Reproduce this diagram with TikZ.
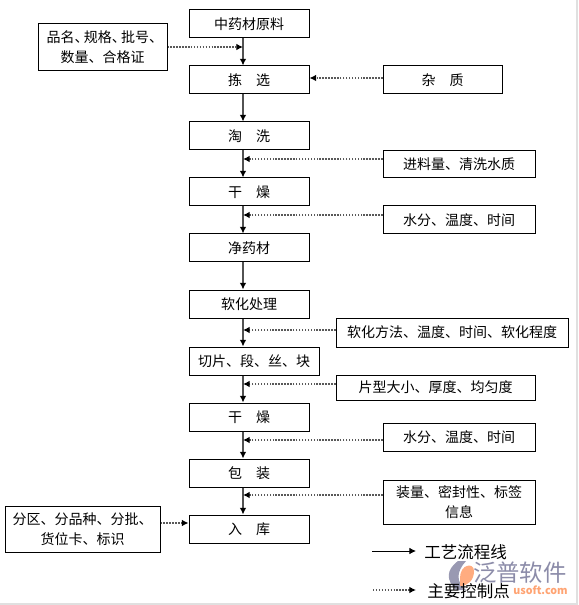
\documentclass[tikz,border=0pt]{standalone}
\usepackage{fontspec}
\setmainfont{Noto Sans CJK SC}
\usetikzlibrary{arrows.meta}
\tikzset{
  x=0.75pt,y=-0.75pt,
  box/.style={draw=black,line width=0.75pt,fill=white,font=\fontsize{10.5pt}{15pt}\selectfont,align=center,inner sep=0pt},
  flow/.style={draw=black!68,line width=1.1pt,-{Latex[length=5pt,width=5pt,black]}},
  ctrl/.style={draw=black!65,line width=0.9pt,dash pattern=on 1.1pt off 1.1pt,-{Latex[length=5pt,width=5pt,black]}},
  lgflow/.style={draw=black,line width=0.7pt,-{Latex[length=5pt,width=5pt,black]}},
  lgctrl/.style={draw=black!65,line width=0.9pt,dash pattern=on 1.1pt off 1.1pt,-{Latex[length=5pt,width=5pt,black]}},
  lgtext/.style={font=\fontsize{12.4pt}{14pt}\selectfont,anchor=west,inner sep=0pt},
}
\newcommand{\bx}[6]{\node[box,minimum width={(#3-#2)*0.75pt},minimum height={(#5-#4)*0.75pt}] (#1) at ({(#2+#3)/2},{(#4+#5)/2}) {#6};}
\begin{document}
\begin{tikzpicture}
\useasboundingbox (0,0) rectangle (578,605);
\fill[white] (0,0) rectangle (578,605);
% page edge
\fill[black!12] (576,0) rectangle (578,605);
\fill[black!12] (0,603) rectangle (578,605);
% watermark
\node[inner sep=0pt,anchor=west,text=blue!25!black!45,font=\fontsize{17.5pt}{18pt}\selectfont] (wm) at (473,573) {泛普软件};
\node[inner sep=0pt,anchor=east,text=orange!70!red!55,font=\fontsize{8pt}{9pt}\selectfont\bfseries] (wmb) at (568,590) {usoft.com};
\fill[blue!25!black!40] (458,561) .. controls (446,570) and (446,580) .. (456,590) -- (466,590) .. controls (456,582) and (456,572) .. (466,561) -- cycle;
\fill[orange!70!red!50] (460,578) .. controls (460,564) and (474,562) .. (474,571) .. controls (474,580) and (468,586) .. (460,586) -- cycle;
% spine of the main flow
\coordinate (spine) at (243,0);
% process boxes
\bx{a}{189}{309}{10}{38}{中药材原料}
\bx{b}{189}{309}{66}{94}{拣\hspace{1em}选}
\bx{c}{189}{309}{122}{150}{淘\hspace{1em}洗}
\bx{d}{189}{309}{178}{206}{干\hspace{1em}燥}
\bx{e}{189}{309}{234}{262}{净药材}
\bx{f}{189}{309}{290}{318}{软化处理}
\bx{g}{189}{319}{347}{375}{切片、段、丝、块}
\bx{h}{189}{309}{403}{431}{干\hspace{1em}燥}
\bx{i}{189}{309}{459}{487}{包\hspace{1em}装}
\bx{j}{189}{309}{515}{543}{入\hspace{1em}库}
% control boxes
\bx{pa}{38}{167}{24}{71}{品名、\kern-3.5pt规格、\kern-3.5pt批号、\kern-3.5pt\\数量、合格证}
\bx{pb}{383}{502}{66}{94}{杂\hspace{1em}质}
\bx{pc}{383}{535}{151}{178}{进料量、清洗水质}
\bx{pd}{383}{535}{206}{234}{水分、温度、时间}
\bx{pf}{336}{568}{318}{347}{软化方法、温度、时间、软化程度}
\bx{pg}{336}{535}{375}{400}{片型大小、厚度、均匀度}
\bx{ph}{383}{535}{423}{451}{水分、温度、时间}
\bx{pi}{383}{535}{480}{524}{装量、密封性、标签\\信息}
\bx{pj}{5}{160}{506}{552}{分区、分品种、分批、\\货位卡、标识}
% main flow
\foreach \u/\v in {a/b,b/c,c/d,d/e,e/f,f/g,g/h,h/i,i/j}
  \draw[flow] (\u.south -| spine) -- (\v.north -| spine);
% control points
\coordinate (ca) at (243,47);
\coordinate (cb) at (0,78);
\coordinate (cc) at (243,159);
\coordinate (cd) at (243,215);
\coordinate (cf) at (243,330);
\coordinate (cg) at (243,384);
\coordinate (ch) at (243,440);
\coordinate (ci) at (243,495);
\coordinate (cj) at (0,523);
\draw[ctrl] (pa.east |- ca) -- (ca);
\draw[ctrl] (pb.west |- cb) -- (b.east |- cb);
\draw[ctrl] (pc.west |- cc) -- (cc);
\draw[ctrl] (pd.west |- cd) -- (cd);
\draw[ctrl] (pf.west |- cf) -- (cf);
\draw[ctrl] (pg.west |- cg) -- (cg);
\draw[ctrl] (ph.west |- ch) -- (ch);
\draw[ctrl] (pi.west |- ci) -- (ci);
\draw[ctrl] (pj.east |- cj) -- (j.west |- cj);
% legend
\coordinate (la) at (372,551);
\coordinate (lb) at (416,551);
\coordinate (lc) at (373,590);
\coordinate (ld) at (416,590);
\draw[lgflow] (la) -- (lb);
\draw[lgctrl] (lc) -- (ld);
\node[lgtext] (lta) at (424,552) {工艺流程线};
\node[lgtext] (ltb) at (427,591) {主要控制点};
\end{tikzpicture}
\end{document}
